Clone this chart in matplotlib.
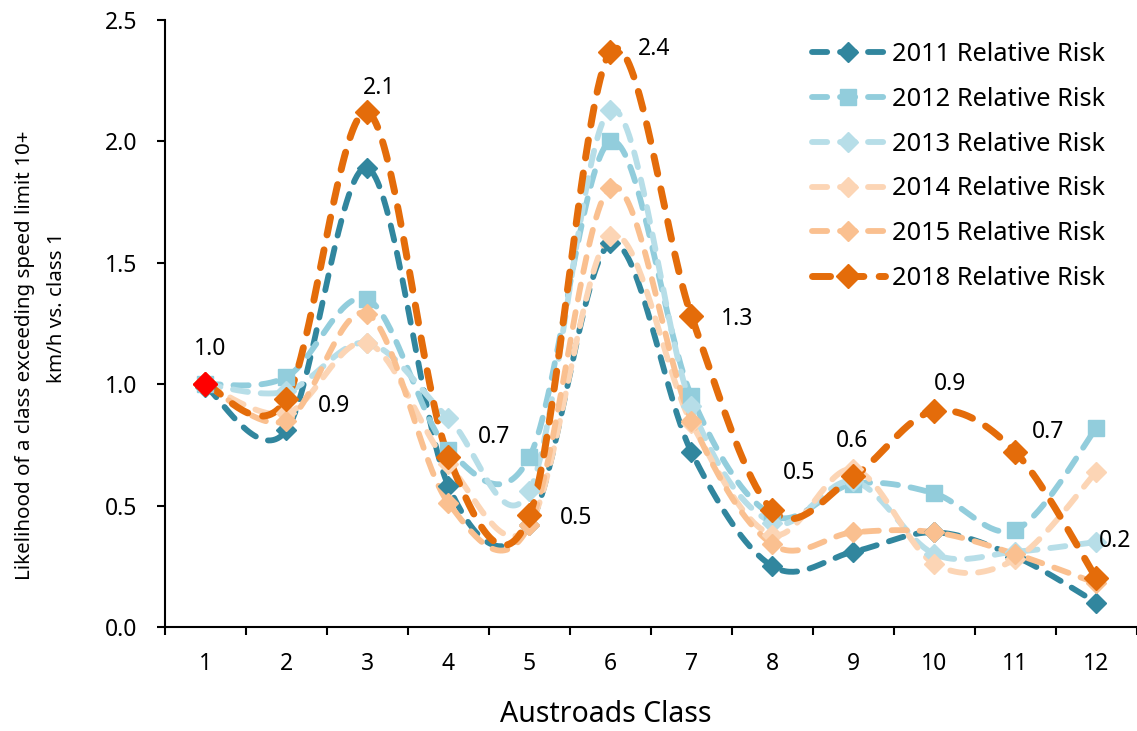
import numpy as np
import matplotlib
matplotlib.use("Agg")
import matplotlib.pyplot as plt
from matplotlib.lines import Line2D

plt.rcParams['font.family'] = ['Noto Sans', 'DejaVu Sans']

classes = [1, 2, 3, 4, 5, 6, 7, 8, 9, 10, 11, 12]
risk_2011 = [0.99, 0.81, 1.89, 0.58, 0.42, 1.58, 0.72, 0.25, 0.31, 0.39, 0.29, 0.10]
risk_2012 = [1.00, 1.03, 1.35, 0.73, 0.70, 2.00, 0.95, 0.46, 0.59, 0.55, 0.40, 0.82]
risk_2013 = [1.00, 0.97, 1.17, 0.86, 0.56, 2.13, 0.91, 0.43, 0.60, 0.30, 0.31, 0.35]
risk_2014 = [1.00, 0.88, 1.17, 0.67, 0.42, 1.61, 0.84, 0.38, 0.65, 0.26, 0.28, 0.64]
risk_2015 = [1.00, 0.85, 1.29, 0.51, 0.42, 1.81, 0.85, 0.34, 0.39, 0.39, 0.30, 0.18]
risk_2018 = [1.00, 0.94, 2.12, 0.70, 0.46, 2.37, 1.28, 0.48, 0.62, 0.89, 0.72, 0.20]

series = [
    ("2011 Relative Risk", risk_2011, "#31869E", "D", 10.5, 4.2),
    ("2012 Relative Risk", risk_2012, "#92CDDC", "s", 11.5, 4.2),
    ("2013 Relative Risk", risk_2013, "#B7DEE8", "D", 10.5, 4.2),
    ("2014 Relative Risk", risk_2014, "#FCD5B5", "D", 10.5, 4.2),
    ("2015 Relative Risk", risk_2015, "#FAC090", "D", 10.5, 4.2),
    ("2018 Relative Risk", risk_2018, "#E46C0A", "D", 12.5, 5.0),
]
DASH = (0, (2.6, 2.2))


def smooth(xs, ys, n=40):
    """Cubic Bezier smoothing through every point (Catmull-Rom style)."""
    p = np.column_stack([xs, ys]).astype(float)
    ext = np.vstack([p[0], p, p[-1]])
    out = []
    t = np.linspace(0, 1, n)[:, None]
    for i in range(len(p) - 1):
        p0, p1 = ext[i + 1], ext[i + 2]
        c1 = p0 + (ext[i + 2] - ext[i]) / 6.0
        c2 = p1 - (ext[i + 3] - ext[i + 1]) / 6.0
        seg = ((1 - t) ** 3) * p0 + 3 * ((1 - t) ** 2) * t * c1 \
            + 3 * (1 - t) * t ** 2 * c2 + t ** 3 * p1
        out.append(seg if i == 0 else seg[1:])
    seg = np.vstack(out)
    return seg[:, 0], seg[:, 1]


fig = plt.figure(figsize=(11.37, 7.31), dpi=100)
ax = fig.add_axes([0.1451, 0.1423, 0.8549, 0.8303])

handles = []
for label, vals, color, marker, ms, lw in series:
    sx, sy = smooth(classes, vals)
    ax.plot(sx, sy, color=color, lw=lw, linestyle=DASH,
            dash_capstyle='round', zorder=2)
    ax.plot(classes, vals, linestyle='none', marker=marker, ms=ms,
            color=color, mec=color, zorder=3)
    handles.append(Line2D([], [], color=color, lw=lw, linestyle=DASH,
                          dash_capstyle='round', marker=marker, ms=ms, mec=color))

# highlighted reference point for class 1 (2018)
ax.plot(classes[0], risk_2018[0], linestyle='none', marker='D', ms=12,
        color='#FF0000', zorder=4)

# value labels for the 2018 series
label_offsets = [(5, 35), (48, -7), (12, 24), (46, 20), (47, -3), (44, 3),
                 (46, -3), (27, 37), (-1, 35), (16, 27), (33, 20), (19, 37)]
for x, v, (dx, dy) in zip(classes, risk_2018, label_offsets):
    ax.annotate(f"{v:.1f}", (x, v), xytext=(dx, dy), textcoords='offset pixels',
                ha='center', va='center', fontsize=16.5, color='#000000', zorder=5)

ax.set_xlim(0.5, 12.5)
ax.set_ylim(0, 2.5)
yt = np.arange(0, 2.51, 0.5)
ax.set_yticks(yt)
ax.set_yticklabels([f"{v:.1f}" for v in yt])
ax.set_xticks(classes)
ax.set_xticklabels([str(c) for c in classes])
ax.set_xticks(np.arange(0.5, 12.6, 1), minor=True)
ax.tick_params(axis='x', which='major', length=0, labelsize=16.5, pad=18)
ax.tick_params(axis='x', which='minor', length=5.8, width=1.5, direction='out')
ax.tick_params(axis='y', which='major', length=5.8, width=1.5, labelsize=16.5, pad=14)

for s in ('top', 'right'):
    ax.spines[s].set_visible(False)
for s in ('left', 'bottom'):
    ax.spines[s].set_linewidth(1.5)
    ax.spines[s].set_color('#000000')

fig.text(606 / 1137, 1 - 715 / 731, "Austroads Class", fontsize=20.5,
         ha='center', va='center')
fig.text(25 / 1137, 1 - 355 / 731, "Likelihood of a class exceeding speed limit 10+",
         fontsize=14.8, rotation=90, ha='center', va='center')
fig.text(57 / 1137, 1 - 308 / 731, "km/h vs. class 1",
         fontsize=14.8, rotation=90, ha='center', va='center')

leg = fig.legend(handles=handles, labels=[s[0] for s in series], loc='upper left',
                 bbox_to_anchor=(812 / 1137, 1 - 42 / 731), frameon=False,
                 fontsize=18.3, handlelength=2.87, handletextpad=0.28,
                 labelspacing=0.78, borderpad=0, borderaxespad=0)

fig.savefig("out.png", dpi=100)
